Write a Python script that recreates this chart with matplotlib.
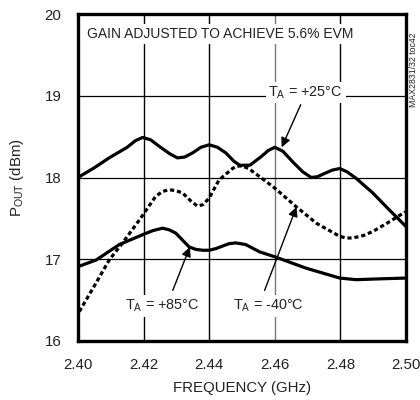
import matplotlib
matplotlib.use("Agg")
import matplotlib.pyplot as plt

plt.rcParams['font.family'] = ['Liberation Sans', 'DejaVu Sans']
plt.rcParams['mathtext.fontset'] = 'custom'
plt.rcParams['mathtext.rm'] = 'Liberation Sans'
plt.rcParams['mathtext.it'] = 'Liberation Sans'

# Data (frequency in GHz, POUT in dBm)
freq_25 = [2.4000, 2.4050, 2.4095, 2.4150, 2.4175, 2.4197, 2.4222, 2.4248, 2.4280,
           2.4303, 2.4325, 2.4349, 2.4375, 2.4400, 2.4425, 2.4451, 2.4475, 2.4493,
           2.4524, 2.4560, 2.4580, 2.4600, 2.4625, 2.4655, 2.4685, 2.4711, 2.4730,
           2.4752, 2.4775, 2.4798, 2.4820, 2.4848, 2.4899, 2.4950, 2.5000]
p_25 = [18.00, 18.12, 18.24, 18.37, 18.45, 18.49, 18.46, 18.38, 18.29,
        18.24, 18.25, 18.30, 18.37, 18.40, 18.37, 18.30, 18.20, 18.15,
        18.15, 18.26, 18.33, 18.37, 18.32, 18.19, 18.07, 18.00, 18.01,
        18.05, 18.09, 18.11, 18.07, 17.99, 17.81, 17.60, 17.40]

freq_m40 = [2.4004, 2.4055, 2.4095, 2.4136, 2.4187, 2.4237, 2.4258, 2.4278, 2.4298,
            2.4319, 2.4342, 2.4364, 2.4382, 2.4400, 2.4430, 2.4471, 2.4485, 2.4501,
            2.4520, 2.4554, 2.4600, 2.4666, 2.4727, 2.4798, 2.4818, 2.4838, 2.4870,
            2.4899, 2.4950, 2.4998]
p_m40 = [16.36, 16.71, 16.99, 17.20, 17.48, 17.77, 17.83, 17.85, 17.84,
         17.81, 17.72, 17.65, 17.67, 17.75, 17.97, 18.11, 18.14, 18.14,
         18.11, 18.01, 17.87, 17.64, 17.44, 17.28, 17.26, 17.26, 17.29,
         17.34, 17.46, 17.58]

freq_85 = [2.4000, 2.4055, 2.4126, 2.4197, 2.4228, 2.4258, 2.4278, 2.4298, 2.4339,
           2.4360, 2.4380, 2.4400, 2.4420, 2.4460, 2.4481, 2.4511, 2.4554, 2.4600,
           2.4696, 2.4798, 2.4848, 2.4919, 2.5000]
p_85 = [16.91, 16.99, 17.18, 17.30, 17.35, 17.38, 17.36, 17.32, 17.15,
        17.12, 17.11, 17.11, 17.13, 17.19, 17.20, 17.18, 17.09, 17.03,
        16.89, 16.77, 16.75, 16.76, 16.77]

xticks = [2.40, 2.42, 2.44, 2.46, 2.48, 2.50]
xtick_labels = ["2.40", "2.42", "2.44", "2.46", "2.48", "2.50"]
yticks = [16, 17, 18, 19, 20]

txt = '#222222'
fig = plt.figure(figsize=(4.2, 4.0), dpi=100)
ax = fig.add_axes([78/420, 1-341/400, 328/420, 327/400])
ax.set_xlim(2.40, 2.50)
ax.set_ylim(16, 20)

for x in xticks[1:-1]:
    ax.axvline(x, color=('#777777' if abs(x-2.46) < 1e-9 else 'black'), lw=1.0, zorder=1)
for y in yticks[1:-1]:
    ax.axhline(y, color='black', lw=0.9, zorder=1)

kw = dict(color='black', lw=2.3, zorder=3, solid_joinstyle='round')
ax.plot(freq_25, p_25, **kw)
ax.plot(freq_85, p_85, **kw)
ax.plot(freq_m40, p_m40, color='black', lw=2.3, zorder=3, linestyle=(0, (1.3, 0.9)))

ax.set_xticks(xticks)
ax.set_xticklabels(xtick_labels)
ax.set_yticks(yticks)
ax.tick_params(length=0, labelsize=10.8, labelcolor=txt)
ax.tick_params(axis='x', pad=12)
ax.tick_params(axis='y', pad=12)
for s in ax.spines.values():
    s.set_linewidth(2.4)
ax.set_xlabel("FREQUENCY (GHz)", fontsize=10.8, color=txt, labelpad=7)
ax.set_ylabel(r"P$_{\mathrm{OUT}}$ (dBm)", fontsize=10.8, color=txt, labelpad=13)

box = dict(facecolor='white', edgecolor='none', pad=2)
ax.text(0.027, 0.939, "GAIN ADJUSTED TO ACHIEVE 5.6% EVM", transform=ax.transAxes,
        fontsize=10, color=txt, va='center', ha='left', bbox=box, zorder=4)

arrow = dict(arrowstyle='-|>', color='black', lw=1.0, mutation_scale=14, shrinkA=0, shrinkB=0)
ax.text(2.4694, 19.04, r"T$_{\mathrm{A}}$ = +25°C", fontsize=10.4, color=txt,
        ha='center', va='center', bbox=box, zorder=4)
ax.annotate("", xy=(2.4621, 18.37), xytext=(2.4679, 18.89), arrowprops=arrow, zorder=5)

ax.text(2.4256, 16.43, r"T$_{\mathrm{A}}$ = +85°C", fontsize=10.4, color=txt,
        ha='center', va='center', bbox=box, zorder=4)
ax.annotate("", xy=(2.4341, 17.15), xytext=(2.4289, 16.62), arrowprops=arrow, zorder=5)

ax.text(2.4581, 16.43, r"T$_{\mathrm{A}}$ = -40°C", fontsize=10.4, color=txt,
        ha='center', va='center', bbox=box, zorder=4)
ax.annotate("", xy=(2.4666, 17.64), xytext=(2.4569, 16.62), arrowprops=arrow, zorder=5)

fig.text(413/420, 1-70/400, "MAX2831/32 toc42", rotation=90, fontsize=6.3, color=txt,
         ha='center', va='center')

fig.savefig("out.png", dpi=100)
